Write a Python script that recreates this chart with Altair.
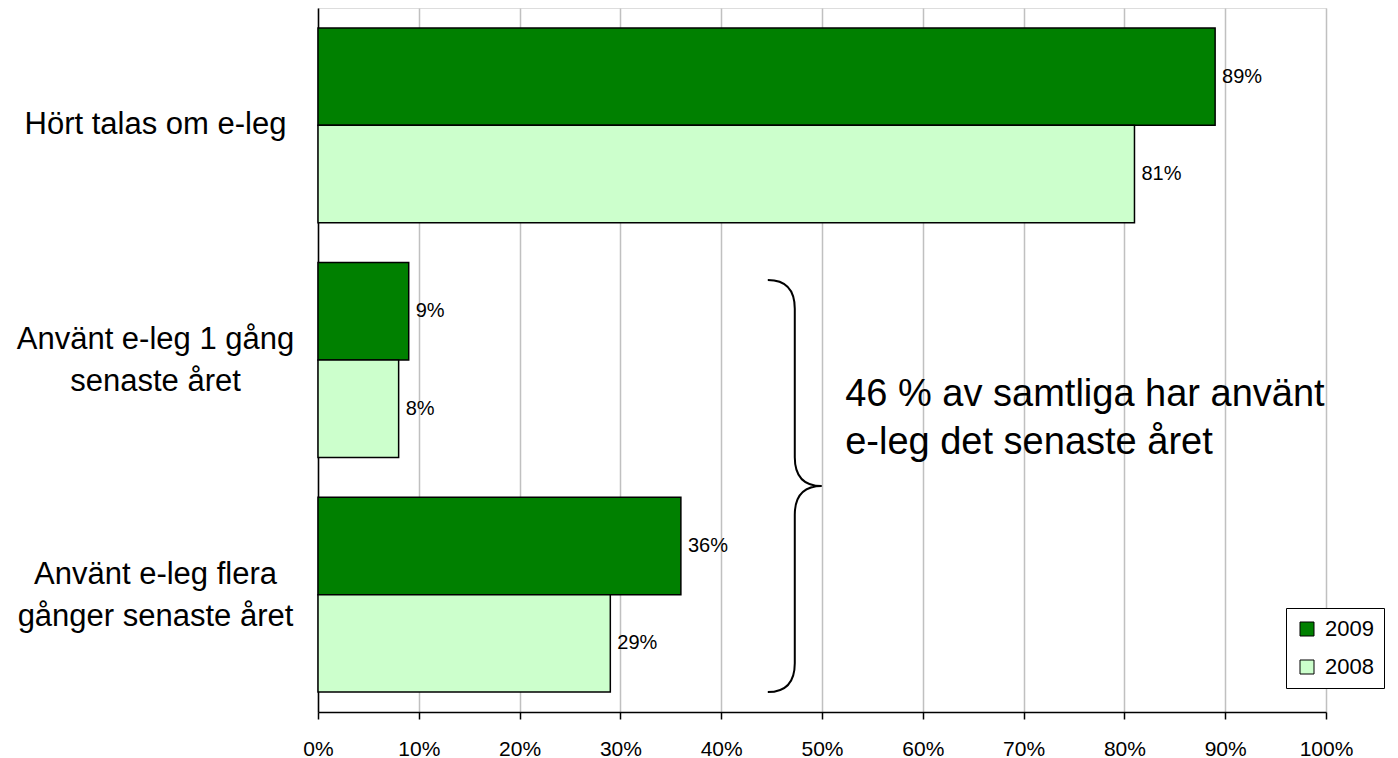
import altair as alt
import pandas as pd

categories = ["Hört talas om e-leg",
              "Använt e-leg 1 gång\nsenaste året",
              "Använt e-leg flera\ngånger senaste året"]
years = ["2009", "2008"]
values_2009 = [89, 9, 36]
values_2008 = [81, 8, 29]
colors = ["#008000", "#CCFFCC"]
x_ticks = [0, 10, 20, 30, 40, 50, 60, 70, 80, 90, 100]
annotation_lines = ["46 % av samtliga har använt", "e-leg det senaste året"]
brace_x = 47.3
text_x = 52.3

rows = []
for c, a, b in zip(categories, values_2009, values_2008):
    rows.append({"cat": c, "year": "2009", "value": a})
    rows.append({"cat": c, "year": "2008", "value": b})
df = pd.DataFrame(rows)

FONT = "Liberation Sans"

x_enc = alt.X("value:Q", scale=alt.Scale(domain=[0, 100], nice=False),
              axis=alt.Axis(values=x_ticks, labelExpr="datum.value + '%'", title=None,
                            grid=True, gridColor="#c0c0c0", gridWidth=1.5,
                            domainColor="black", domainWidth=1.5,
                            tickColor="black", tickWidth=1.5, tickSize=7,
                            labelFontSize=21, labelColor="black", labelPadding=19,
                            labelFlush=False, labelOverlap=False,
                            labelFont=FONT))
y_enc = alt.Y("cat:N", sort=categories,
              scale=alt.Scale(paddingInner=0.17, paddingOuter=0.085),
              axis=alt.Axis(title=None, ticks=False, tickSize=0, grid=False,
                            domainColor="black", domainWidth=1.5,
                            labelExpr="split(datum.label, '\\n')",
                            labelAlign="center", labelBaseline="middle",
                            labelOffset={"condition": {"test": "indexof(datum.label, '\\n') >= 0",
                                                       "value": -20},
                                         "value": 0},
                            labelPadding=163, labelFontSize=31, labelLineHeight=42,
                            labelColor="black", labelFont=FONT,
                            minExtent=310, maxExtent=310, labelLimit=400))
yoff = alt.YOffset("year:N", sort=years, scale=alt.Scale(paddingInner=0, paddingOuter=0))

bars = alt.Chart(df).mark_bar(stroke="black", strokeWidth=1.5).encode(
    x=x_enc, y=y_enc, yOffset=yoff,
    fill=alt.Fill("year:N", sort=years,
                  scale=alt.Scale(domain=years, range=colors),
                  legend=alt.Legend(title=None, orient="none", legendX=968, legendY=600,
                                    symbolType="square", symbolSize=196,
                                    symbolStrokeColor="black", symbolStrokeWidth=1,
                                    labelFontSize=22, labelFont=FONT, labelColor="black",
                                    labelOffset=7, rowPadding=16, padding=10,
                                    strokeColor="black", fillColor="white")),
)

labels = alt.Chart(df).transform_calculate(lbl="datum.value + '%'").mark_text(
    align="left", baseline="middle", dx=7, fontSize=20, font=FONT, color="black"
).encode(x="value:Q", y=alt.Y("cat:N", sort=categories), yOffset=yoff, text="lbl:N")

brace_path = ("M-0.131,-1 Q0,-1 0,-0.86 L0,-0.14 Q0,0 0.131,0 "
              "Q0,0 0,0.14 L0,0.86 Q0,1 -0.131,1")
brace = alt.Chart(pd.DataFrame({"x": [brace_x]})).mark_point(
    shape=brace_path, filled=False, stroke="black", strokeWidth=2, size=412 * 412, opacity=1
).encode(x="x:Q", y=alt.value(478))

note = alt.Chart(pd.DataFrame({"x": [text_x], "t": ["\n".join(annotation_lines)]})).mark_text(
    align="left", baseline="middle", fontSize=38, font=FONT, color="black",
    lineBreak="\n", lineHeight=48
).encode(x="x:Q", y=alt.value(387), text="t:N")

chart = alt.layer(bars, labels, brace, note).properties(
    width=1008, height=704, padding={"left": 0, "top": 0, "right": 0, "bottom": 0}
).configure_view(strokeWidth=0).configure(background="white")

chart.save("out.html", embed_options={"renderer": "svg", "actions": False})
